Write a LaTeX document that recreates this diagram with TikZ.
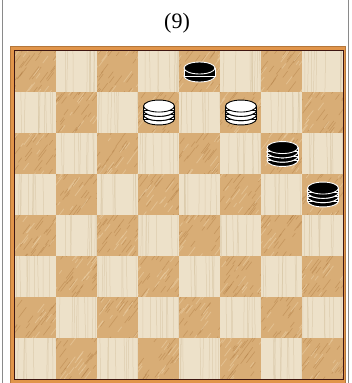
\documentclass[tikz,border=0pt]{standalone}
\usepackage{fontspec}
\setmainfont{Liberation Serif}
\definecolor{lightwood}{HTML}{EDE1C9}
\definecolor{lightgrain}{HTML}{D6C4A2}
\definecolor{darkwood}{HTML}{D8AD76}
\definecolor{darkgrain}{HTML}{A9743C}
\definecolor{darkhi}{HTML}{EACDA2}
\definecolor{framecol}{HTML}{E1954A}
\definecolor{frameline}{HTML}{3E1612}
\definecolor{sideline}{HTML}{8A8A8A}
\tikzset{
  blackpiece/.style={fill=black, draw=white, line width=0.9pt},
  whitepiece/.style={fill=white, draw=black, line width=0.9pt},
  titlefont/.style={font=\fontsize{22}{24}\selectfont, inner sep=0pt}
}
\def\prx{15.5}
\def\pry{6}
\newcommand\drawpiece[5]{%
  \pgfmathsetmacro\ptop{#2 - (2*\pry + #3*#4)/2 + \pry}%
  \foreach \k in {#3,...,1}{%
    \pgfmathsetmacro\yk{\ptop + (\k-1)*#4}%
    \pgfmathsetmacro\ykb{\yk + #4}%
    \filldraw[#5] (#1,\ykb) ellipse[x radius=\prx, y radius=\pry];
    \fill[#5] (#1-\prx,\yk) rectangle (#1+\prx,\ykb);
    \draw[#5] (#1-\prx,\yk) -- (#1-\prx,\ykb) (#1+\prx,\yk) -- (#1+\prx,\ykb);
    \filldraw[#5] (#1,\yk) ellipse[x radius=\prx, y radius=\pry];
  }%
}
\begin{document}
\begin{tikzpicture}[x=1pt,y=-1pt]
\useasboundingbox (0,0) rectangle (351,383);
\fill[white] (0,0) rectangle (351,383);
\draw[sideline, line width=1.2pt] (2.5,0) -- (2.5,383);
\draw[sideline, line width=1.2pt] (348.5,0) -- (348.5,383);
\node[titlefont] (title) at (177,23) {(9)};
% frame
\fill[framecol] (10,46) rectangle (346,383);
\draw[framecol!80!black, line width=0.6pt] (10.3,46.3) rectangle (345.7,390);
% squares
\pgfmathsetseed{4242}
\foreach \r in {0,...,7}{
  \foreach \c in {0,...,7}{
    \pgfmathsetmacro\xa{15+\c*41}
    \pgfmathsetmacro\ya{51+\r*41}
    \pgfmathtruncatemacro\sqpar{mod(\r+\c,2)}
    \begin{scope}
      \clip (\xa,\ya) rectangle ++(41,41);
      \ifnum\sqpar=0
        \fill[darkwood] (\xa,\ya) rectangle ++(41,41);
        \foreach \i in {1,...,30}{
          \pgfmathsetmacro\sx{\xa+rnd*60-15}
          \pgfmathsetmacro\sy{\ya+rnd*50}
          \pgfmathsetmacro\glen{4+rnd*12}
          \draw[darkgrain, line width=0.6pt, opacity=0.4] (\sx,\sy) -- ++(\glen*0.6,-\glen*0.8);
        }
        \foreach \i in {1,...,18}{
          \pgfmathsetmacro\sx{\xa+rnd*60-15}
          \pgfmathsetmacro\sy{\ya+rnd*50}
          \pgfmathsetmacro\glen{4+rnd*10}
          \draw[darkhi, line width=0.8pt, opacity=0.6] (\sx,\sy) -- ++(\glen*0.6,-\glen*0.8);
        }
      \else
        \fill[lightwood] (\xa,\ya) rectangle ++(41,41);
        \foreach \i in {1,...,9}{
          \pgfmathsetmacro\sx{\xa+rnd*41}
          \pgfmathsetmacro\dx{rnd*2-1}
          \draw[lightgrain, line width=0.5pt, opacity=0.7] (\sx,\ya) -- ++(\dx,41);
        }
      \fi
    \end{scope}
  }
}
% inner dark border
\draw[frameline, line width=1.3pt] (14.2,50.2) rectangle (343.3,379.8);
% pieces
\drawpiece{199.5}{72}{1}{8}{blackpiece}
\drawpiece{159}{112.5}{3}{4.3}{whitepiece}
\drawpiece{241}{112.5}{3}{4.3}{whitepiece}
\drawpiece{282.5}{154}{3}{4.3}{blackpiece}
\drawpiece{323}{194.5}{3}{4.3}{blackpiece}
\end{tikzpicture}
\end{document}
